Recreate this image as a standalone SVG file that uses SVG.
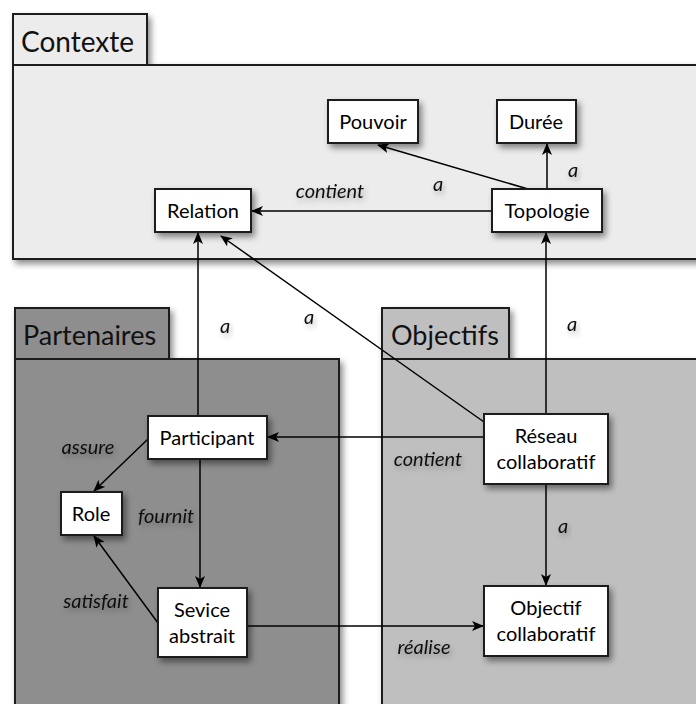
<svg xmlns="http://www.w3.org/2000/svg" width="696" height="704" viewBox="0 0 696 704">
<defs>
<filter id="sh" x="-20%" y="-20%" width="150%" height="150%">
<feDropShadow dx="3" dy="4" stdDeviation="3" flood-color="#000" flood-opacity="0.45"/>
</filter>
<filter id="glow" x="-30%" y="-50%" width="160%" height="200%">
<feGaussianBlur in="SourceAlpha" stdDeviation="3" result="b"/>
<feOffset dx="2" dy="3" in="b" result="o"/>
<feComponentTransfer in="o" result="c"><feFuncA type="linear" slope="0.3"/></feComponentTransfer>
<feMerge><feMergeNode in="c"/><feMergeNode in="SourceGraphic"/></feMerge>
</filter>
<marker id="ah" viewBox="0 0 12 10" refX="11" refY="5" markerWidth="12" markerHeight="10" markerUnits="userSpaceOnUse" orient="auto">
<path d="M0,0 L12,5 L0,10 L3,5 Z" fill="#000"/>
</marker>
</defs>
<style>
.pk{stroke:#1a1a1a;stroke-width:2}
.nd rect{fill:#fff;stroke:#1a1a1a;stroke-width:2;filter:url(#sh)}
.nd text{font-family:Lato,"Open Sans",sans-serif;font-size:20px;fill:#000;text-anchor:middle}
.pt{font-family:Lato,"Open Sans",sans-serif;font-size:28px;fill:#111}
.ln{stroke:#000;stroke-width:1.5;fill:none;marker-end:url(#ah)}
.lb{font-family:Lato,"Open Sans",sans-serif;font-style:italic;font-size:20px;fill:#111;text-anchor:middle;filter:url(#glow)}
</style>
<rect width="696" height="704" fill="#fff"/>
<g id="pkg-contexte" filter="url(#sh)">
<rect class="pk" x="13" y="65" width="700" height="194" fill="#ececec"/>
<rect class="pk" x="13" y="14" width="134" height="51" fill="#ececec"/>
</g>
<text class="pt" x="21" y="52">Contexte</text>
<g id="pkg-partenaires" filter="url(#sh)">
<rect class="pk" x="15" y="359" width="324" height="360" fill="#8e8e8e"/>
<rect class="pk" x="15" y="308" width="154" height="51" fill="#8e8e8e"/>
</g>
<text class="pt" x="23" y="345" style="font-size:27px">Partenaires</text>
<g id="pkg-objectifs" filter="url(#sh)">
<rect class="pk" x="382" y="359" width="330" height="360" fill="#bfbfbf"/>
<rect class="pk" x="382" y="308" width="127" height="51" fill="#bfbfbf"/>
</g>
<text class="pt" x="391" y="345" style="font-size:27px">Objectifs</text>
<g id="connectors">
<line class="ln" x1="492" y1="211" x2="252" y2="211"/>
<line class="ln" x1="528" y1="189" x2="378" y2="145"/>
<line class="ln" x1="547" y1="189" x2="547" y2="144"/>
<line class="ln" x1="198" y1="416" x2="198" y2="233"/>
<line class="ln" x1="484" y1="422" x2="221" y2="236"/>
<line class="ln" x1="546" y1="414" x2="546" y2="233"/>
<line class="ln" x1="484" y1="437" x2="268" y2="437"/>
<line class="ln" x1="546" y1="484" x2="546" y2="585"/>
<line class="ln" x1="148" y1="439" x2="94" y2="491"/>
<line class="ln" x1="200" y1="459" x2="200" y2="587"/>
<line class="ln" x1="158" y1="623" x2="94" y2="536"/>
<line class="ln" x1="247" y1="626" x2="483" y2="626"/>
<text class="lb" x="330" y="198">contient</text>
<text class="lb" x="438" y="191">a</text>
<text class="lb" x="573" y="177">a</text>
<text class="lb" x="225" y="333">a</text>
<text class="lb" x="309" y="324">a</text>
<text class="lb" x="572" y="331">a</text>
<text class="lb" x="428" y="466">contient</text>
<text class="lb" x="563" y="533">a</text>
<text class="lb" x="88" y="454">assure</text>
<text class="lb" x="166" y="523">fournit</text>
<text class="lb" x="96" y="608">satisfait</text>
<text class="lb" x="424" y="654">réalise</text>
</g>
<g id="n-pouvoir" class="nd"><rect x="328" y="100" width="90" height="43"/><text x="373" y="129">Pouvoir</text></g>
<g id="n-duree" class="nd"><rect x="497" y="100" width="79" height="43"/><text x="536" y="129">Durée</text></g>
<g id="n-relation" class="nd"><rect x="155" y="189" width="96" height="43"/><text x="203" y="218">Relation</text></g>
<g id="n-topologie" class="nd"><rect x="492" y="189" width="110" height="43"/><text x="547" y="218">Topologie</text></g>
<g id="n-participant" class="nd"><rect x="148" y="416" width="119" height="43"/><text x="207" y="445">Participant</text></g>
<g id="n-role" class="nd"><rect x="61" y="492" width="61" height="43"/><text x="91" y="521">Role</text></g>
<g id="n-sevice" class="nd"><rect x="158" y="588" width="89" height="69"/><text x="202" y="617">Sevice</text><text x="202" y="643">abstrait</text></g>
<g id="n-reseau" class="nd"><rect x="484" y="414" width="124" height="70"/><text x="546" y="443">Réseau</text><text x="546" y="469">collaboratif</text></g>
<g id="n-objectif" class="nd"><rect x="484" y="586" width="124" height="70"/><text x="546" y="615">Objectif</text><text x="546" y="641">collaboratif</text></g>
</svg>
